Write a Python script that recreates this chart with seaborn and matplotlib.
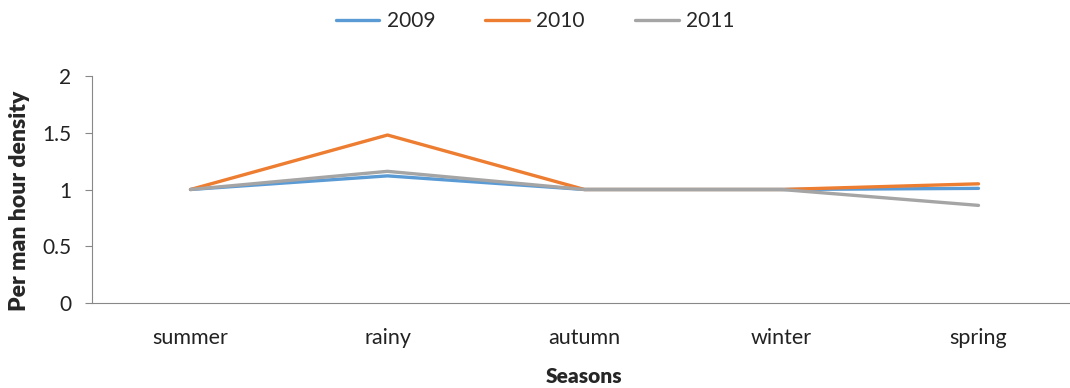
import matplotlib
matplotlib.use("Agg")
import matplotlib.pyplot as plt
import seaborn as sns
import pandas as pd

seasons = ["summer", "rainy", "autumn", "winter", "spring"]
years = ["2009", "2010", "2011"]
values_2009 = [1.00, 1.12, 1.00, 1.00, 1.01]
values_2010 = [1.00, 1.48, 1.00, 1.00, 1.05]
values_2011 = [1.00, 1.16, 1.00, 1.00, 0.86]
palette = ["#5B9BD5", "#ED7D31", "#A5A5A5"]

rows = []
for yr, vals in zip(years, [values_2009, values_2010, values_2011]):
    for i, (s, v) in enumerate(zip(seasons, vals)):
        rows.append({"pos": i, "season": s, "year": yr, "value": v})
df = pd.DataFrame(rows)

sns.set_style("white")
plt.rcParams["font.family"] = ["Lato", "DejaVu Sans"]

fig = plt.figure(figsize=(10.7, 3.88), dpi=100)
ax = fig.add_axes([92 / 1070, (388 - 303) / 388, 985 / 1070, (303 - 76) / 388])

sns.lineplot(data=df, x="pos", y="value", hue="year", palette=palette,
             linewidth=2.4, ax=ax, legend=True)

ax.set_xlim(-0.5, 4.5)
ax.set_ylim(0, 2)
ax.set_yticks([0, 0.5, 1, 1.5, 2])
ax.set_yticklabels(["0", "0.5", "1", "1.5", "2"])
ax.set_xticks(range(len(seasons)))
ax.set_xticklabels(seasons)
ax.tick_params(axis="y", labelsize=15, length=5, width=0.8, color="#888888",
               direction="out", pad=10, left=True, labelcolor="#222222")
ax.tick_params(axis="x", labelsize=15.5, length=0, pad=18, labelcolor="#222222")

for side in ["top", "right"]:
    ax.spines[side].set_visible(False)
for side in ["left", "bottom"]:
    ax.spines[side].set_color("#888888")
    ax.spines[side].set_linewidth(0.8)

ax.set_xlabel("Seasons", fontsize=15, fontweight="heavy", va="center")
ax.xaxis.set_label_coords(0.5, -0.325)
ax.set_ylabel("Per man hour density", fontsize=16.5, fontweight="heavy", va="center")
ax.yaxis.set_label_coords(-0.074, 0.45)

handles, labels = ax.get_legend_handles_labels()
fig.legend(handles, labels, loc="upper center", bbox_to_anchor=(0.5, 1.02),
           ncol=3, frameon=False, fontsize=15, handlelength=2.1,
           columnspacing=2.4, handletextpad=0.35)
ax.get_legend().remove()

fig.savefig("out.png", dpi=100)
